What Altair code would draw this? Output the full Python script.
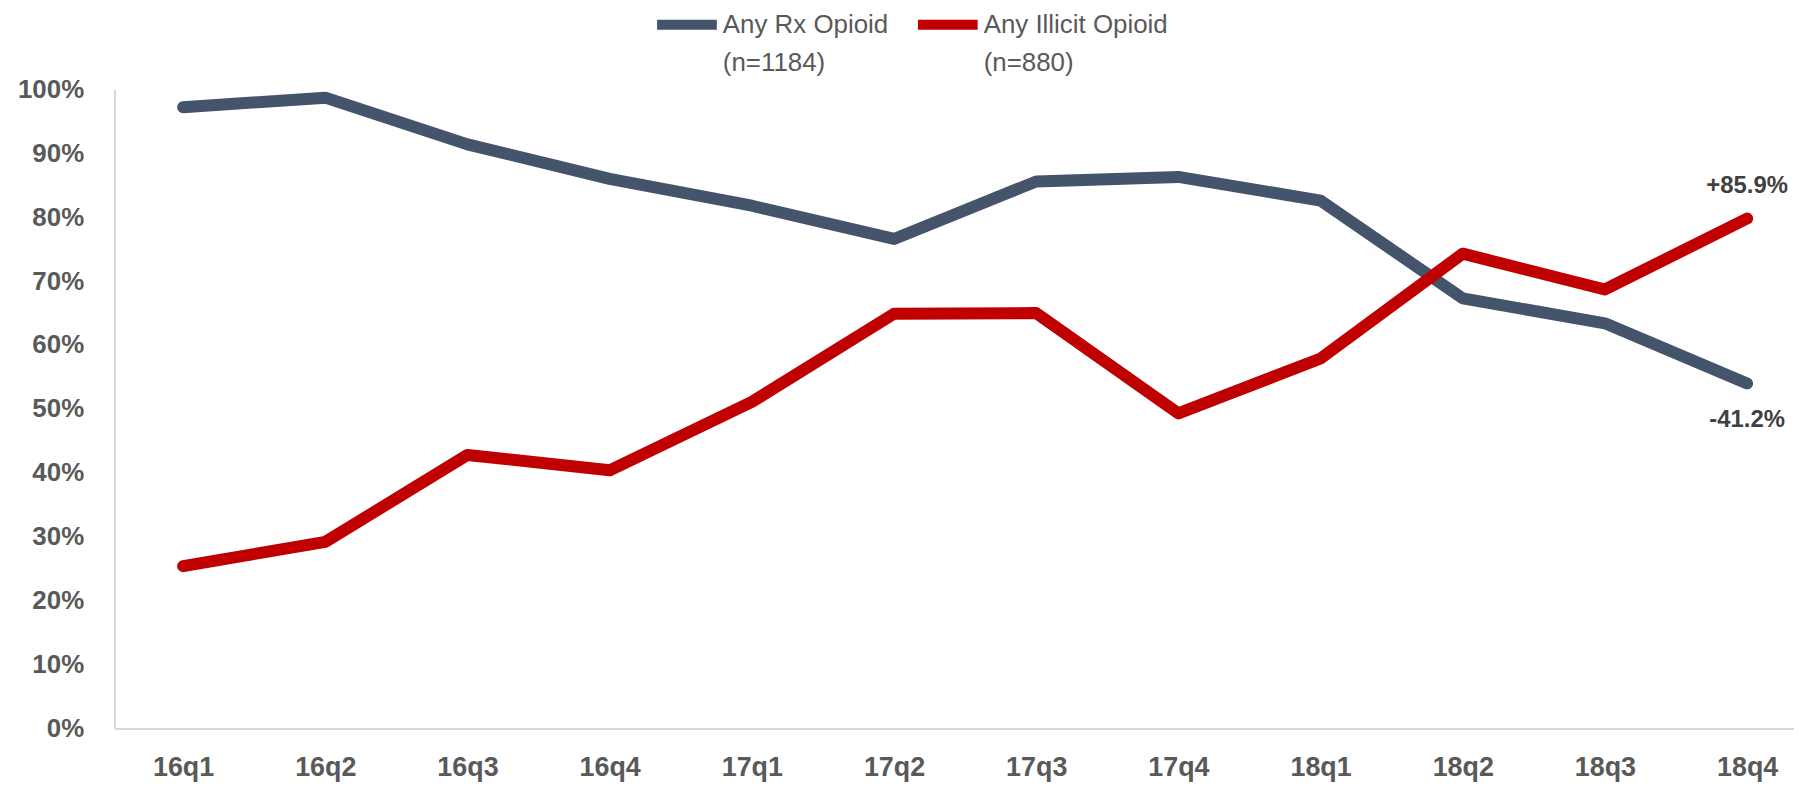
import altair as alt
import pandas as pd

quarters = ["16q1", "16q2", "16q3", "16q4", "17q1", "17q2",
            "17q3", "17q4", "18q1", "18q2", "18q3", "18q4"]
series_names = ["Any Rx Opioid", "Any Illicit Opioid"]
series_n = ["(n=1184)", "(n=880)"]
series_colors = ["#44546A", "#C00000"]
rx_values = [0.972, 0.987, 0.914, 0.860, 0.818, 0.766, 0.856, 0.863, 0.826, 0.673, 0.634, 0.540]
illicit_values = [0.254, 0.292, 0.428, 0.404, 0.511, 0.649, 0.650, 0.493, 0.579, 0.743, 0.687, 0.798]
end_labels = ["-41.2%", "+85.9%"]

rows = []
for name, vals in zip(series_names, [rx_values, illicit_values]):
    for q, v in zip(quarters, vals):
        rows.append({"quarter": q, "series": name, "value": v})
df = pd.DataFrame(rows)

ann_df = pd.DataFrame({
    "quarter": [quarters[-1], quarters[-1]],
    "series": series_names,
    "value": [rx_values[-1], illicit_values[-1]],
    "label": end_labels,
})

FONT = "Liberation Sans"

label_expr = "[datum.label, " + " : ".join(
    [f"datum.label == '{n}' ? '{s}'" for n, s in zip(series_names[:-1], series_n[:-1])]
    + [f"'{series_n[-1]}'"]) + "]"

x_enc = alt.X("quarter:O", sort=quarters,
              scale=alt.Scale(type="point", padding=0.406, align=0.594),
              axis=alt.Axis(title=None, labelAngle=0, ticks=False, domainColor="#D9D9D9",
                            domainWidth=2, labelFont=FONT, labelFontSize=27,
                            labelFontWeight="bold", labelColor="#595959", labelPadding=26))
y_enc = alt.Y("value:Q", scale=alt.Scale(domain=[0, 1], nice=False),
              axis=alt.Axis(title=None, format=".0%", values=[i / 10 for i in range(11)],
                            grid=False, ticks=False, domainColor="#D9D9D9", domainWidth=2,
                            labelFont=FONT, labelFontSize=26, labelFontWeight="bold",
                            labelColor="#595959", labelPadding=31))

lines = alt.Chart(df).mark_line(strokeWidth=12, strokeCap="round", strokeJoin="round").encode(
    x=x_enc,
    y=y_enc,
    color=alt.Color("series:N", sort=series_names,
                    scale=alt.Scale(domain=series_names, range=series_colors),
                    legend=alt.Legend(title=None, orient="none", legendX=540, legendY=-100,
                                      direction="horizontal", symbolType="stroke",
                                      symbolSize=3600, symbolStrokeWidth=10,
                                      labelExpr=label_expr, labelFont=FONT, labelFontSize=26,
                                      labelColor="#595959", labelLimit=400, labelOffset=1,
                                      labelBaseline="middle",
                                      columnPadding=9, padding=0)),
    detail="series:N",
)

ann_rx = alt.Chart(ann_df[ann_df["series"] == series_names[0]]).mark_text(
    font=FONT, fontSize=24, fontWeight="bold", color="#404040", dy=37, baseline="middle"
).encode(x=alt.X("quarter:O", sort=quarters), y="value:Q", text="label:N")

ann_il = alt.Chart(ann_df[ann_df["series"] == series_names[1]]).mark_text(
    font=FONT, fontSize=24, fontWeight="bold", color="#404040", dy=-33, baseline="middle"
).encode(x=alt.X("quarter:O", sort=quarters), y="value:Q", text="label:N")

chart = alt.layer(lines, ann_rx, ann_il).properties(
    width=1687, height=642,
    padding={"left": 107, "top": 80, "right": 0, "bottom": 56},
    autosize=alt.AutoSizeParams(type="none"),
).configure(
    background="white",
    view=alt.ViewConfig(stroke="transparent"),
    style={"guide-label": {"lineHeight": 39}},
)

chart.save("out.html", embed_options={"renderer": "svg", "actions": False})
